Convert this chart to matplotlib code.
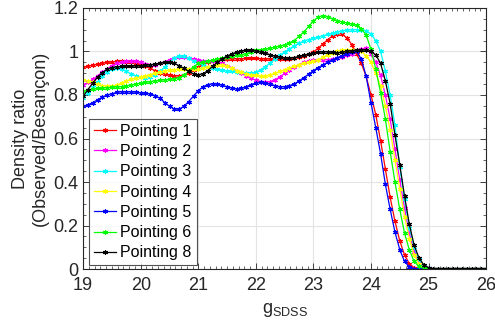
import numpy as np
import matplotlib
matplotlib.use('Agg')
import matplotlib.pyplot as plt
from matplotlib.ticker import MultipleLocator, FuncFormatter

plt.rcParams['font.family'] = ['Liberation Sans', 'DejaVu Sans']
plt.rcParams['mathtext.fontset'] = 'custom'
plt.rcParams['mathtext.rm'] = 'Liberation Sans'

# magnitude bins (1/12 mag wide), 19 .. 26
g = np.round(19 + np.arange(85) / 12, 3)

zeros_tail = [0.0] * 13

p1 = [0.927, 0.932, 0.937, 0.942, 0.946, 0.950, 0.952, 0.954, 0.954, 0.953, 0.950, 0.946,
      0.940, 0.932, 0.922, 0.912, 0.903, 0.896, 0.891, 0.888, 0.888, 0.892, 0.900, 0.913,
      0.928, 0.942, 0.952, 0.958, 0.962, 0.964, 0.965, 0.966, 0.967, 0.967, 0.968, 0.968,
      0.968, 0.967, 0.966, 0.965, 0.964, 0.964, 0.965, 0.967, 0.970, 0.974, 0.980, 0.988,
      0.998, 1.015, 1.035, 1.055, 1.072, 1.082, 1.080, 1.062, 1.032, 0.990, 0.945, 0.885,
      0.800, 0.710, 0.590, 0.460, 0.330, 0.220, 0.130, 0.065, 0.025, 0.006, 0.001, 0.0] + zeros_tail

p2 = [0.847, 0.858, 0.872, 0.888, 0.905, 0.920, 0.935, 0.945, 0.952, 0.956, 0.957, 0.955,
      0.950, 0.944, 0.940, 0.940, 0.945, 0.953, 0.962, 0.970, 0.974, 0.974, 0.970, 0.965,
      0.960, 0.958, 0.957, 0.955, 0.952, 0.946, 0.935, 0.925, 0.912, 0.900, 0.887, 0.876,
      0.868, 0.862, 0.859, 0.862, 0.870, 0.883, 0.900, 0.915, 0.930, 0.940, 0.950, 0.956,
      0.960, 0.962, 0.963, 0.963, 0.965, 0.970, 0.975, 0.982, 0.990, 1.000, 1.010, 1.015,
      0.990, 0.950, 0.890, 0.800, 0.690, 0.550, 0.410, 0.280, 0.165, 0.080, 0.032, 0.010,
      0.003, 0.001, 0.0, 0.0, 0.0, 0.0, 0.0, 0.0, 0.0, 0.0, 0.0, 0.0, 0.0]

p3 = [0.786, 0.810, 0.835, 0.860, 0.885, 0.905, 0.918, 0.922, 0.918, 0.908, 0.897, 0.888,
      0.882, 0.880, 0.884, 0.893, 0.908, 0.928, 0.950, 0.970, 0.980, 0.978, 0.968, 0.955,
      0.945, 0.937, 0.930, 0.924, 0.918, 0.913, 0.910, 0.908, 0.906, 0.904, 0.902, 0.900,
      0.905, 0.915, 0.930, 0.948, 0.965, 0.982, 0.998, 1.012, 1.025, 1.038, 1.048, 1.055,
      1.060, 1.066, 1.072, 1.078, 1.084, 1.090, 1.095, 1.098, 1.100, 1.100, 1.100, 1.095,
      1.080, 1.050, 1.000, 0.910, 0.800, 0.660, 0.470, 0.320, 0.190, 0.100, 0.045, 0.015,
      0.005, 0.001, 0.0, 0.0, 0.0, 0.0, 0.0, 0.0, 0.0, 0.0, 0.0, 0.0, 0.0]

p4 = [0.870, 0.865, 0.858, 0.850, 0.843, 0.840, 0.840, 0.845, 0.855, 0.865, 0.872, 0.878,
      0.882, 0.888, 0.894, 0.900, 0.906, 0.911, 0.915, 0.917, 0.918, 0.918, 0.919, 0.920,
      0.920, 0.925, 0.930, 0.935, 0.940, 0.938, 0.932, 0.922, 0.912, 0.904, 0.897, 0.892,
      0.890, 0.888, 0.888, 0.893, 0.900, 0.908, 0.915, 0.924, 0.932, 0.940, 0.946, 0.951,
      0.955, 0.963, 0.973, 0.985, 0.995, 1.002, 1.005, 1.006, 1.006, 1.005, 1.000, 0.980,
      0.950, 0.900, 0.840, 0.750, 0.640, 0.500, 0.370, 0.240, 0.140, 0.065, 0.025, 0.008,
      0.002, 0.0, 0.0, 0.0, 0.0, 0.0, 0.0, 0.0, 0.0, 0.0, 0.0, 0.0, 0.0]

p5 = [0.748, 0.755, 0.765, 0.778, 0.790, 0.800, 0.806, 0.812, 0.815, 0.815, 0.814, 0.813,
      0.810, 0.808, 0.805, 0.797, 0.785, 0.765, 0.748, 0.735, 0.735, 0.748, 0.770, 0.795,
      0.820, 0.838, 0.848, 0.852, 0.850, 0.845, 0.838, 0.832, 0.828, 0.830, 0.838, 0.848,
      0.855, 0.858, 0.855, 0.850, 0.843, 0.838, 0.838, 0.843, 0.850, 0.865, 0.880, 0.895,
      0.912, 0.926, 0.939, 0.951, 0.962, 0.972, 0.981, 0.990, 0.997, 1.000, 0.965, 0.885,
      0.765, 0.650, 0.530, 0.390, 0.275, 0.170, 0.090, 0.035, 0.010, 0.002, 0.0, 0.0] + zeros_tail

p6 = [0.818, 0.822, 0.826, 0.830, 0.832, 0.834, 0.835, 0.837, 0.839, 0.842, 0.846, 0.850,
      0.855, 0.858, 0.862, 0.865, 0.868, 0.870, 0.872, 0.875, 0.880, 0.890, 0.910, 0.930,
      0.945, 0.952, 0.957, 0.960, 0.965, 0.970, 0.975, 0.979, 0.982, 0.985, 0.990, 0.997,
      1.005, 1.008, 1.012, 1.015, 1.020, 1.025, 1.030, 1.040, 1.050, 1.070, 1.090, 1.115,
      1.140, 1.158, 1.165, 1.160, 1.150, 1.142, 1.136, 1.131, 1.126, 1.120, 1.105, 1.075,
      1.010, 0.920, 0.810, 0.690, 0.540, 0.400, 0.275, 0.165, 0.088, 0.035, 0.012, 0.004] + zeros_tail

p8 = [0.794, 0.825, 0.855, 0.882, 0.903, 0.918, 0.926, 0.930, 0.931, 0.931, 0.932, 0.933,
      0.934, 0.936, 0.939, 0.941, 0.945, 0.950, 0.950, 0.945, 0.935, 0.922, 0.908, 0.897,
      0.893, 0.898, 0.912, 0.932, 0.950, 0.966, 0.979, 0.989, 0.997, 1.002, 1.005, 1.005,
      1.003, 0.998, 0.992, 0.985, 0.978, 0.974, 0.971, 0.970, 0.972, 0.977, 0.983, 0.988,
      0.992, 0.996, 0.998, 0.998, 0.996, 0.995, 0.996, 1.000, 1.004, 1.007, 1.008, 1.005,
      1.000, 0.985, 0.945, 0.865, 0.760, 0.615, 0.480, 0.335, 0.205, 0.110, 0.052, 0.020,
      0.007, 0.002, 0.0, 0.0, 0.0, 0.0, 0.0, 0.0, 0.0, 0.0, 0.0, 0.0, 0.0]

series = [p1, p2, p3, p4, p5, p6, p8]
labels = ['Pointing 1', 'Pointing 2', 'Pointing 3', 'Pointing 4',
          'Pointing 5', 'Pointing 6', 'Pointing 8']
colors = ['#ff0000', '#ff00ff', '#00ffff', '#ffff00', '#0000ff', '#00ff00', '#000000']

fig = plt.figure(figsize=(4.95, 3.31), dpi=100)
ax = fig.add_axes([0.168, 0.187, 0.814, 0.789])

for y, lab, c in zip(series, labels, colors):
    ax.plot(g, y, '-', color=c, lw=0.9, marker=(6, 2, 0), ms=3.5, mew=0.8, label=lab)

ax.set_xlim(19, 26)
ax.set_ylim(0, 1.2)
ax.xaxis.set_major_locator(MultipleLocator(1))
ax.xaxis.set_minor_locator(MultipleLocator(0.1))
ax.yaxis.set_major_locator(MultipleLocator(0.2))
ax.yaxis.set_minor_locator(MultipleLocator(0.05))
ax.yaxis.set_major_formatter(FuncFormatter(lambda v, p: '%g' % round(v, 2)))
ax.tick_params(which='both', direction='in', top=True, right=True, labelsize=13, colors='#262626')
ax.tick_params(which='major', length=4, width=0.6)
ax.tick_params(which='minor', length=2, width=0.5)
ax.tick_params(axis='x', pad=6)
ax.grid(True, which='major', color='#e3e3e3', lw=0.8)
ax.set_axisbelow(True)
for s in ax.spines.values():
    s.set_linewidth(0.8)
    s.set_color('#262626')

ax.set_xlabel('g$_\\mathregular{SDSS}$', fontsize=13, color='#262626', labelpad=5)
ax.set_ylabel('Density ratio\n(Observed/Besançon)', fontsize=13, color='#262626', labelpad=3)

leg = ax.legend(loc='lower left', bbox_to_anchor=(0.015, 0.015), borderaxespad=0,
                fontsize=11.5, frameon=True, fancybox=False, edgecolor='#262626',
                handlelength=1.4, handletextpad=0.25, labelspacing=0.33, borderpad=0.3)
leg.get_frame().set_linewidth(0.8)

fig.savefig('out.png', dpi=100)
